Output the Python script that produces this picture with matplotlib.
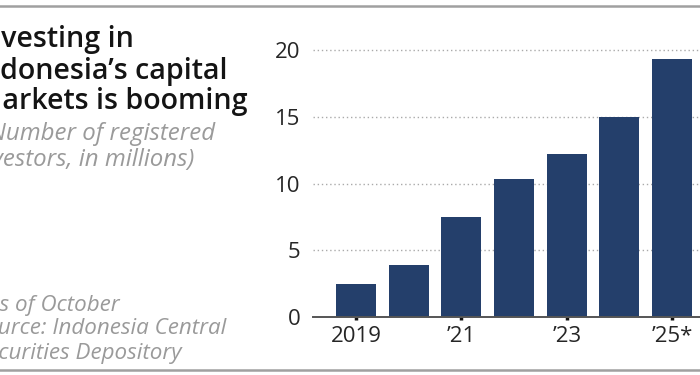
import matplotlib
matplotlib.use("Agg")
import matplotlib.pyplot as plt
from matplotlib.lines import Line2D

years = ["2019", "2020", "2021", "2022", "2023", "2024", "2025*"]
values = [2.49, 3.89, 7.48, 10.32, 12.24, 14.96, 19.3]
tick_idx = [0, 2, 4, 6]
tick_labels = ["2019", "\u201921", "\u201923", "\u201925*"]
y_ticks = [0, 5, 10, 15, 20]

title_lines = ["Investing in", "Indonesia\u2019s capital", "Markets is booming"]
sub_lines = ["Number of registered", "investors, in millions)"]
foot_lines = ["As of October", "Source: Indonesia Central", "Securities Depository"]

# layout (pixels): hidden prefix length (chars cut by the left edge), right edge, line centre y
title_cut = [2, 2, 1]
title_right = [133, 228, 248]
title_y = [40, 71, 102]
sub_cut = [1, 2]
sub_right = [217, 197]
sub_y = [134, 160]
foot_cut = [1, 2, 2]
foot_right = [122, 228, 183]
foot_y = [305, 329, 353]

FAMILY = ["Open Sans", "Lato", "DejaVu Sans"]
W, H = 700, 375
fig = plt.figure(figsize=(7, 3.75), dpi=100)
fig.patch.set_facecolor("white")
plt.rcParams["font.family"] = FAMILY

ax = fig.add_axes([313 / W, (H - 317.3) / H, (W - 313) / W, 20.5 * 13.37 / H])
x = list(range(len(values)))
ax.bar(x, values, width=0.76, color="#243f6b", zorder=3)
ax.set_xlim(-0.82, 6.53)
ax.set_ylim(0, 20.5)
for s in ["top", "right", "left"]:
    ax.spines[s].set_visible(False)
ax.spines["bottom"].set_color("#555555")
ax.spines["bottom"].set_linewidth(1.4)
ax.spines["bottom"].set_zorder(4)
ax.set_yticks(y_ticks)
ax.set_yticklabels([str(v) for v in y_ticks])
ax.tick_params(axis="y", length=0, pad=9, labelsize=16, labelcolor="#262626")
ax.set_xticks(tick_idx)
ax.set_xticklabels(tick_labels)
ax.tick_params(axis="x", length=2.5, width=2.5, color="#111111", pad=4,
               labelsize=16, labelcolor="#262626", direction="out")
for v in y_ticks[1:]:
    ax.axhline(v, color="#aaaaaa", linestyle=(0, (1, 2)), linewidth=1, zorder=1)

# borders
fig.add_artist(Line2D([0, 1], [1 - 6 / H, 1 - 6 / H], color="#a0a0a0", lw=1.8, transform=fig.transFigure))
fig.add_artist(Line2D([0, 1], [1 - 370 / H, 1 - 370 / H], color="#a0a0a0", lw=1.8, transform=fig.transFigure))

renderer = fig.canvas.get_renderer()

def width(s, **kw):
    t = fig.text(0, 0, s, fontsize=10, **kw)
    w = t.get_window_extent(renderer).width
    t.remove()
    return w

def place(lines, cuts, rights, ys, shift=0, **kw):
    # one common font size for the group, fitted to the visible widths
    scales = []
    for s, c, r in zip(lines, cuts, rights):
        vis = width(s, **kw) - width(s[:c], **kw)
        scales.append((r - 1) / vis)
    fs = 10 * sum(scales) / len(scales)
    for s, c, r, y in zip(lines, cuts, rights, ys):
        full = width(s, **kw) * fs / 10
        xl = r - full + shift
        fig.text(xl / W, 1 - y / H, s, fontsize=fs, ha="left", va="center", **kw)

place(title_lines, title_cut, title_right, title_y, fontweight="semibold", color="#141414")
place(sub_lines, sub_cut, sub_right, sub_y, shift=-2, style="italic", color="#9a9a9a")
place(foot_lines, foot_cut, foot_right, foot_y, shift=-2, style="italic", color="#9a9a9a")

fig.savefig("out.png", dpi=100)
